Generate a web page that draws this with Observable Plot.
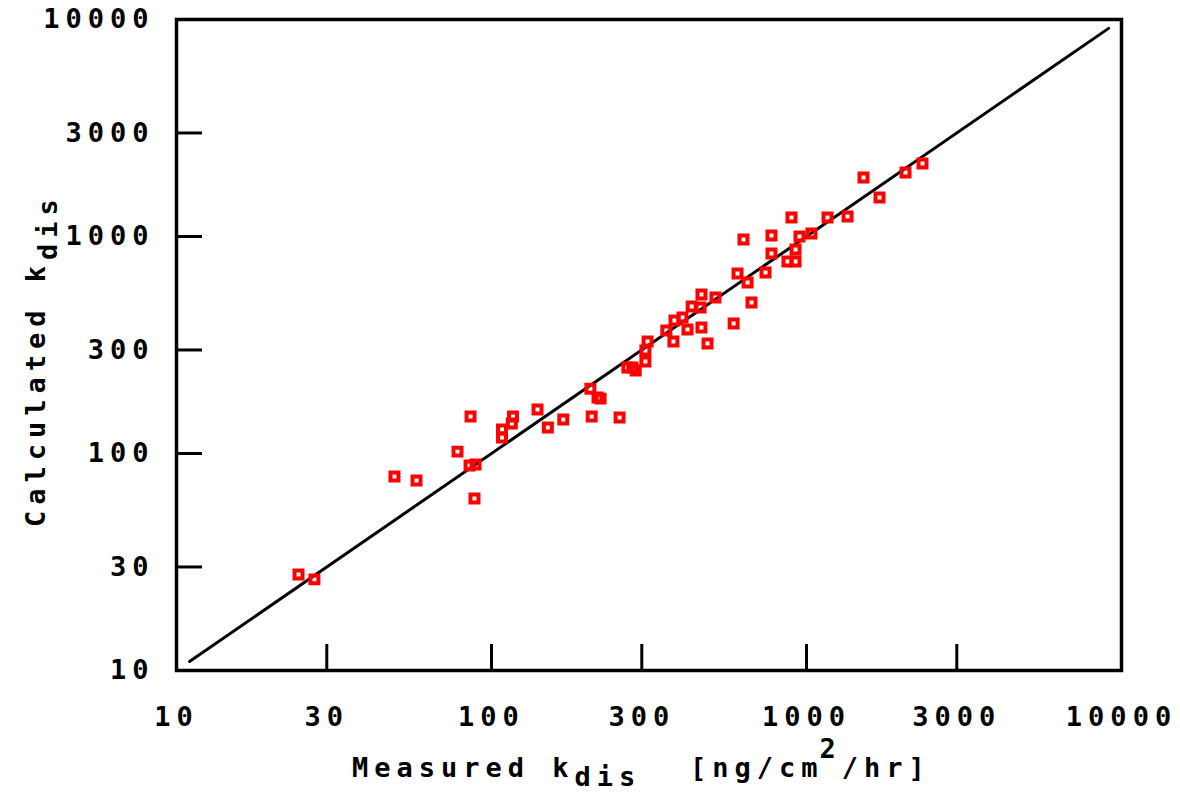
<!DOCTYPE html>
<html><head><meta charset="utf-8">
<script src="https://cdn.jsdelivr.net/npm/d3@7"></script>
<script src="https://cdn.jsdelivr.net/npm/@observablehq/plot@0.6"></script>
<style>
body{margin:0;background:#fff}
#chart{width:1180px;height:792px}
</style>
</head><body><div id="chart"></div>
<script>
const measured = [24.4, 27.4, 49.2, 57.8, 78, 85.8, 85.2, 89, 88.3, 108, 108, 117, 116, 140, 151, 169, 208, 255, 206, 217, 222, 270, 280, 287, 308, 308, 313, 359, 378, 381, 404, 419, 432, 461, 464, 464, 514, 485, 587, 604, 650, 669, 741, 774, 774, 870, 923, 923, 950, 1037, 896, 1166, 1350, 1517, 1705, 2062, 2335, 631];
const calculated = [27.7, 26.3, 78.3, 75.1, 102, 148, 88, 89, 62, 129, 118.5, 148, 137.5, 159.5, 131.8, 143.5, 148, 146.5, 199, 181, 179, 249, 249, 241, 265.5, 298, 328, 369, 328, 410, 423, 373, 476, 471, 540, 381, 523.5, 321, 397, 675, 614, 497, 683, 835, 1011, 767, 767, 871, 1000, 1032, 1224, 1224, 1237, 1870, 1512, 1972, 2170, 969];
const fitX = [11, 9100];
const fitY = [11, 9100];
const xTicks = [10, 30, 100, 300, 1000, 3000, 10000];
const yTicks = [10, 30, 100, 300, 1000, 3000, 10000];

const points = measured.map((m, i) => ({m, c: calculated[i]}));
const fit = fitX.map((x, i) => ({x, y: fitY[i]}));

const FONT = "'DejaVu Sans Mono', monospace";
const chart = Plot.plot({
  width: 1180,
  height: 792,
  marginLeft: 176,
  marginRight: 59,
  marginTop: 19,
  marginBottom: 122,
  style: {fontFamily: FONT, fontSize: "27px", fontWeight: "bold", letterSpacing: "6px", background: "#fff", color: "#000", overflow: "visible"},
  x: {type: "log", domain: [10, 10000]},
  y: {type: "log", domain: [10, 10000]},
  marks: [
    Plot.line(fit, {x: "x", y: "y", stroke: "black", strokeWidth: 3}),
    Plot.dot(points, {x: "m", y: "c", symbol: "square", r: 4.5, stroke: "#ff0000", strokeWidth: 4, fill: "none"}),
    Plot.ruleX(xTicks, {stroke: "black", strokeWidth: 3, insetTop: 625}),
    Plot.ruleY(yTicks, {stroke: "black", strokeWidth: 3, insetRight: 919}),
    Plot.frame({stroke: "black", strokeWidth: 3.5}),
    Plot.axisX({ticks: xTicks, tickSize: 0, tickPadding: 36, tickFormat: d => String(d), label: null}),
    Plot.axisY({ticks: yTicks, tickSize: 0, tickPadding: 22, tickFormat: d => String(d), label: null})
  ]
});
document.getElementById("chart").appendChild(chart);

const svg = d3.select(chart);
const xt = svg.append("text")
  .attr("x", 352).attr("y", 777)
  .attr("text-anchor", "start")
  .attr("fill", "black");
xt.append("tspan").text("Measured k");
xt.append("tspan").attr("dy", 9).text("dis");
xt.append("tspan").attr("x", 690).attr("dy", -9).text("[ng/cm");
xt.append("tspan").attr("dy", -19).attr("dx", -4).text("2");
xt.append("tspan").attr("dy", 19).text("/hr]");

const yt = svg.append("text")
  .attr("transform", "translate(45,527) rotate(-90)")
  .attr("text-anchor", "start")
  .attr("fill", "black");
yt.append("tspan").text("Calculated k");
yt.append("tspan").attr("dy", 12).text("dis");
</script>
</body></html>
